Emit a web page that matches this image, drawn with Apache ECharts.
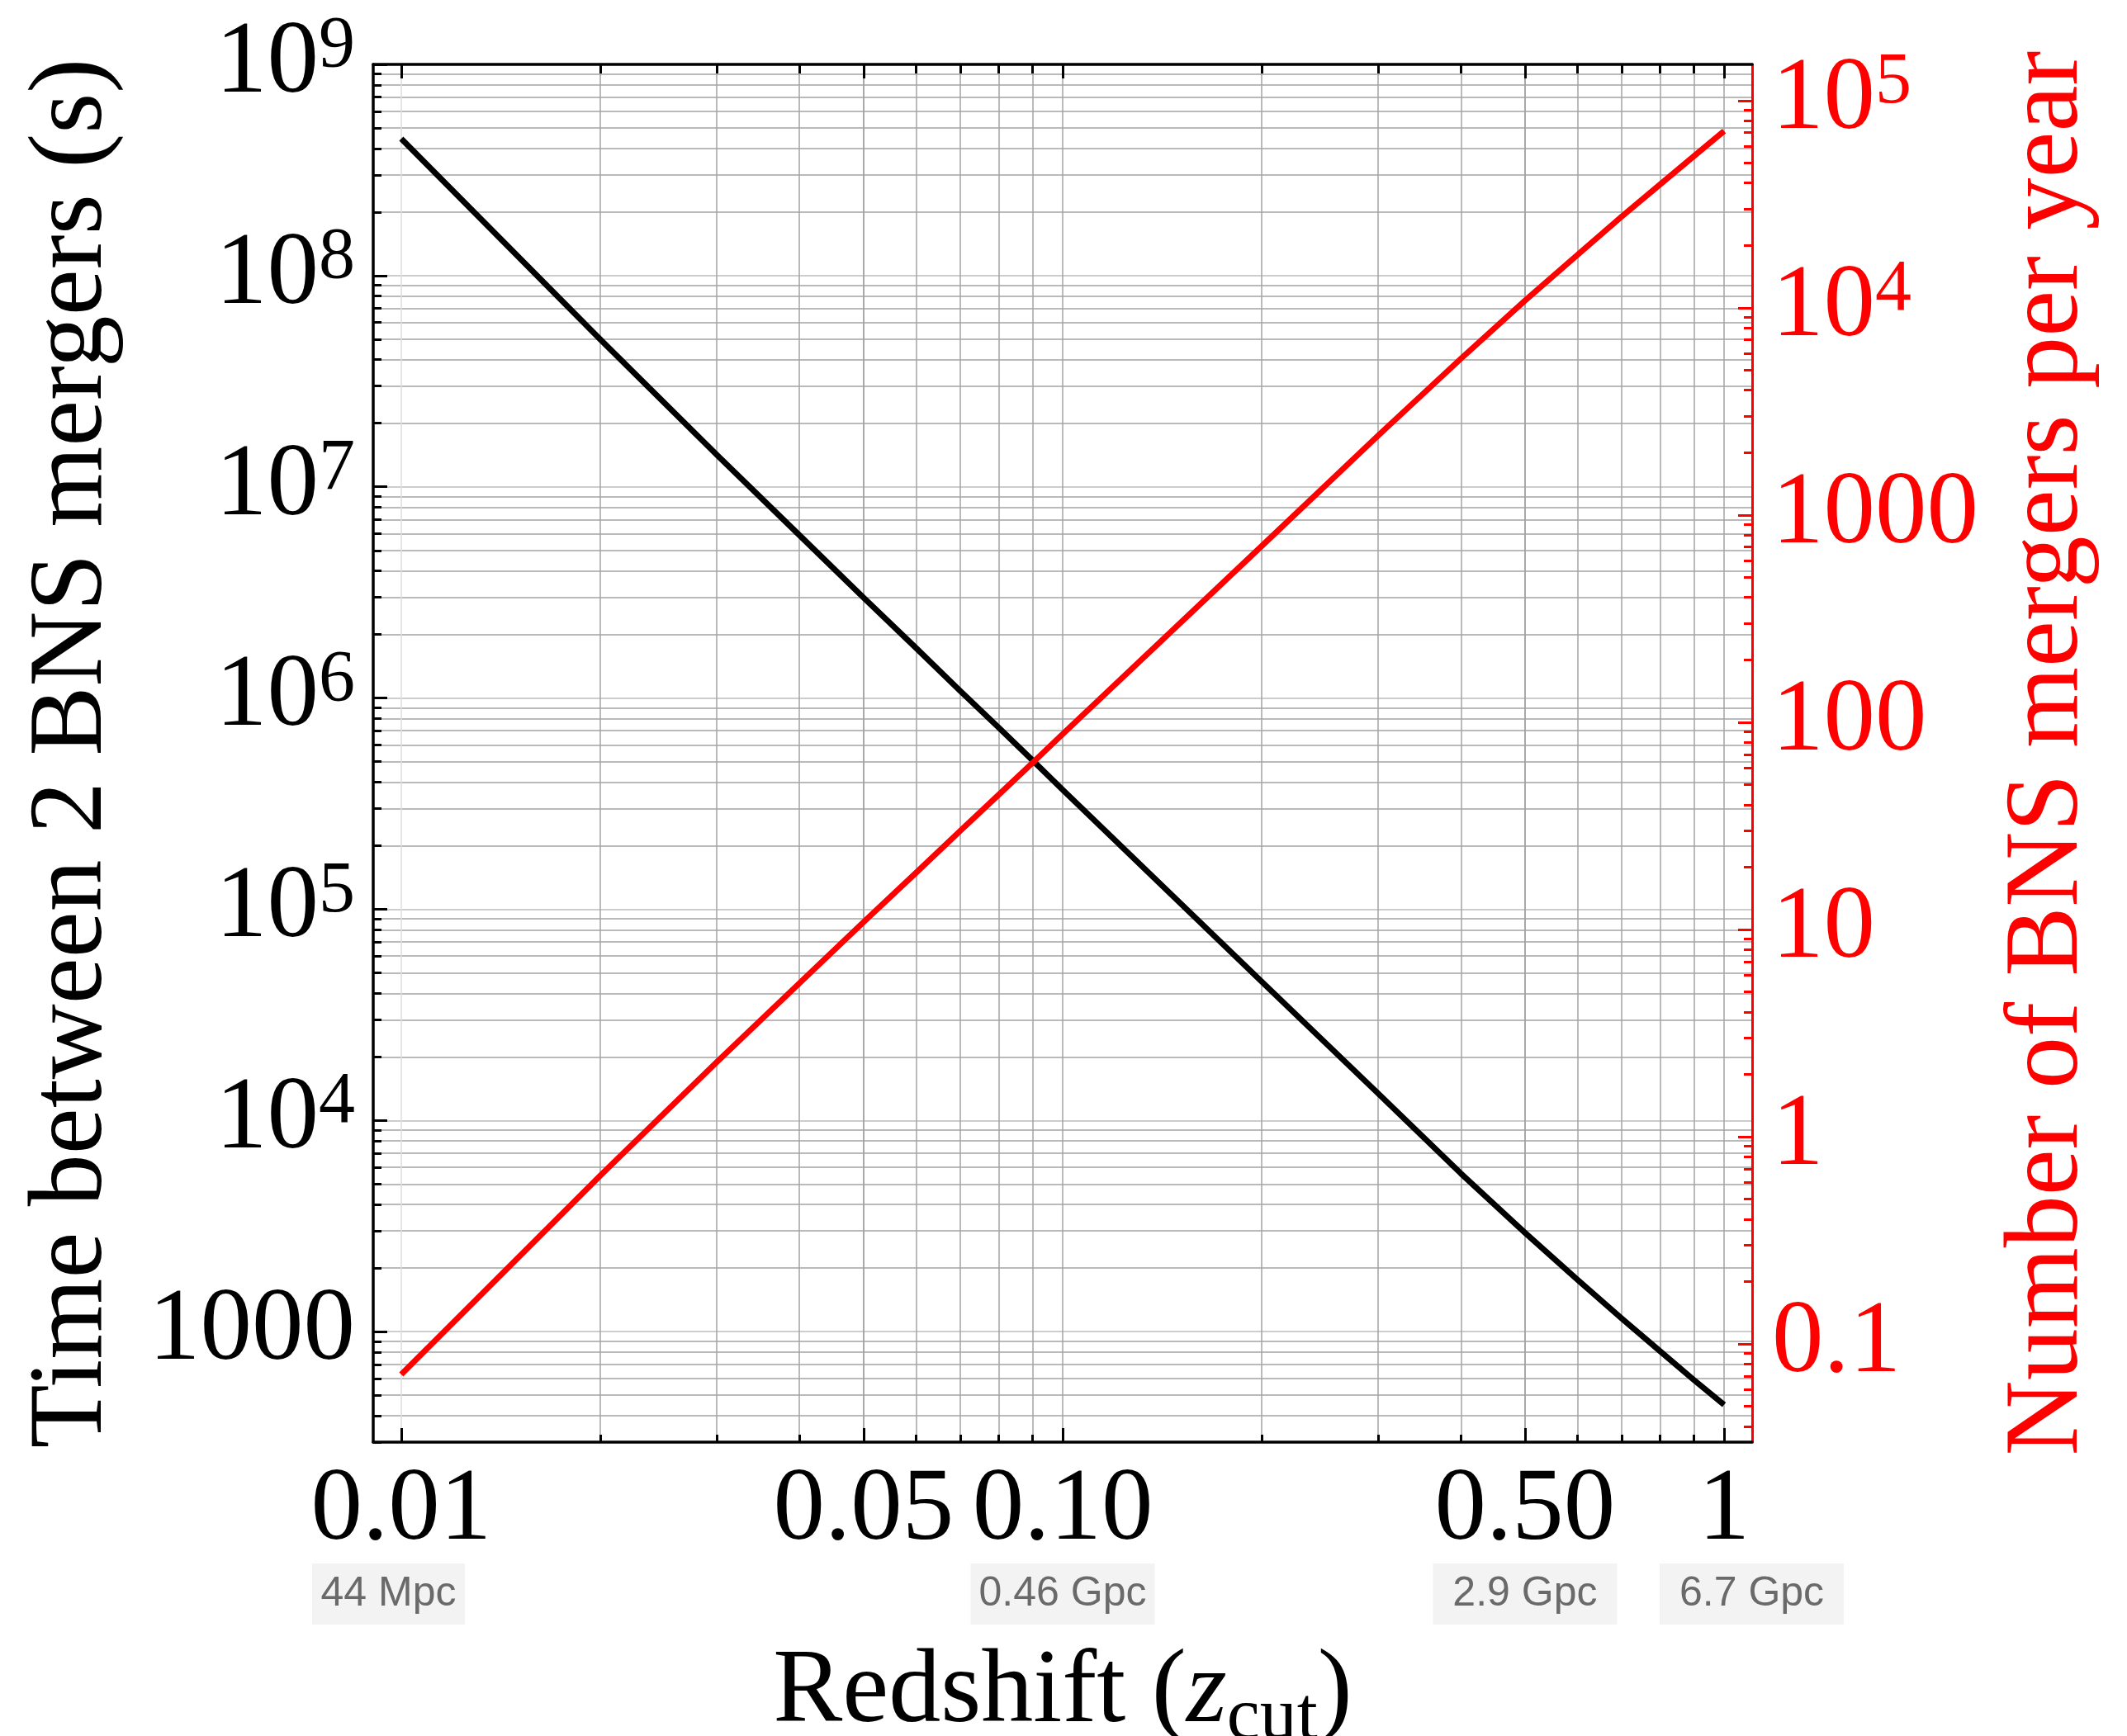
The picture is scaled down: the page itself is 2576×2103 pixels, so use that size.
<!DOCTYPE html>
<html>
<head>
<meta charset="utf-8">
<script src="https://cdn.jsdelivr.net/npm/echarts@6/dist/echarts.min.js"></script>
<style>
html,body{margin:0;padding:0;background:#ffffff;}
#chart{width:2576px;height:2103px;}
</style>
</head>
<body>
<div id="chart"></div>
<script>
// ---------------- data ----------------
const redshift       = [0.01, 0.02, 0.03, 0.04, 0.05, 0.06, 0.07, 0.08, 0.09, 0.10, 0.20, 0.30, 0.40, 0.50, 0.60, 0.70, 0.80, 0.90, 1.00];
const timeBetween    = [4.45e8, 4.98e7, 1.418e7, 5.90e6, 2.985e6, 1.727e6, 1.080e6, 7.25e5, 5.08e5, 3.68e5, 4.54e4, 1.342e4, 5.61e3, 2.94e3, 1.765e3, 1.156e3, 809, 591, 451];
const mergersPerYear = [0.0712, 0.650, 2.293, 5.505, 10.86, 18.75, 29.9, 44.6, 63.6, 87.7, 708.6, 2421, 5679, 10820, 17980, 27520, 39340, 53830, 71240];

// ---------------- ticks and labels ----------------
const xMajorTicks  = [0.01, 0.05, 0.1, 0.5, 1];
const xMajorLabels = ['0.01', '0.05', '0.10', '0.50', '1'];
const distanceTicks  = [0.01, 0.1, 0.5, 1];
const distanceLabels = ['44 Mpc', '0.46 Gpc', '2.9 Gpc', '6.7 Gpc'];
const leftMajorTicks  = [1e3, 1e4, 1e5, 1e6, 1e7, 1e8, 1e9];
const leftMajorLabels = ['1000', '10^4', '10^5', '10^6', '10^7', '10^8', '10^9'];
const rightMajorTicks  = [0.1, 1, 10, 100, 1e3, 1e4, 1e5];
const rightMajorLabels = ['0.1', '1', '10', '100', '1000', '10^4', '10^5'];
const minorMultipliers = [2, 3, 4, 5, 6, 7, 8, 9];

// axis ranges
const X_MIN = 0.00907, X_MAX = 1.1025;
const L_MIN = 300, L_MAX = 1e9;
const R_MIN = 0.03357, R_MAX = 149400;

function minorTicks(lo, hi) {
  const out = [];
  for (let k = Math.floor(Math.log10(lo)); k <= Math.ceil(Math.log10(hi)); k++) {
    for (const m of minorMultipliers) {
      const v = k < 0 ? m / Math.pow(10, -k) : m * Math.pow(10, k);
      if (v >= lo * 0.9999 && v <= hi * 1.0001) out.push(v);
    }
  }
  return out;
}
function nearestIndex(v, arr) {
  let best = 0, bd = Infinity;
  arr.forEach((a, i) => { const d = Math.abs(Math.log10(a) - Math.log10(v)); if (d < bd) { bd = d; best = i; } });
  return best;
}
function supLabel(s) {
  if (s.indexOf('^') >= 0) { const p = s.split('^'); return '{m|' + p[0] + '}{s|' + p[1] + '}'; }
  return '{m|' + s + '}';
}

const SERIF = "'Liberation Serif','Times New Roman',Times,serif";
const SANS = "'Liberation Sans',Arial,Helvetica,sans-serif";
const GRID_DARK = '#a3a3a3';
const GRID_LIGHT = '#bdbdbd';
const TICK_FONT = 125;

function richTicks(color) {
  return {
    m: {fontFamily: SERIF, fontSize: TICK_FONT, lineHeight: 130, color: color},
    s: {fontFamily: SERIF, fontSize: 88, lineHeight: 66, verticalAlign: 'top', color: color}
  };
}

// box widths and horizontal shifts of the distance boxes (style only)
const distStyle = [{w: 185, sp: 31, side: 'after'}, {w: 223, sp: 0}, {w: 223, sp: 0}, {w: 223, sp: 67, side: 'before'}];
const boxBase = {backgroundColor: '#f3f3f3', height: 74, lineHeight: 74, fontSize: 50, fontFamily: SANS, color: '#6a6a6a', align: 'center'};
const distRich = {
  b185: Object.assign({width: 185}, boxBase),
  b223: Object.assign({width: 223}, boxBase),
  sp31: {width: 31, lineHeight: 74, fontSize: 48, align: 'center'},
  sp67: {width: 67, lineHeight: 74, fontSize: 48, align: 'center'}
};
function distFormatter(v) {
  const i = nearestIndex(v, distanceTicks);
  const st = distStyle[i];
  const box = '{b' + st.w + '|' + distanceLabels[i] + '}';
  if (!st.sp) return box;
  const sp = '{sp' + st.sp + '| }';
  return st.side === 'before' ? sp + box : box + sp;
}

const hidden = {show: false};

function distanceAxis(values) {
  return {
    type: 'log', logBase: 10, position: 'bottom', min: X_MIN, max: X_MAX, gridIndex: 0,
    axisLine: hidden, axisTick: hidden, splitLine: hidden, minorTick: hidden, minorSplitLine: hidden,
    axisLabel: {show: true, margin: 147, customValues: values, showMinLabel: true, showMaxLabel: true, hideOverlap: false,
      formatter: distFormatter, rich: distRich}
  };
}

const option = {
  animation: false,
  backgroundColor: '#ffffff',
  grid: {left: 452, right: 454, top: 78, bottom: 356, containLabel: false, outerBoundsMode: 'none'},
  xAxis: [
    { // bottom major
      type: 'log', logBase: 10, position: 'bottom', min: X_MIN, max: X_MAX, gridIndex: 0,
      axisLine: {show: true, onZero: false, lineStyle: {color: '#000', width: 3.5}},
      axisTick: {show: true, inside: true, length: 17, lineStyle: {color: '#000', width: 3}, customValues: xMajorTicks},
      axisLabel: {show: true, margin: 21, customValues: xMajorTicks, fontFamily: SERIF, fontSize: TICK_FONT, lineHeight: 126, color: '#000',
        showMinLabel: true, showMaxLabel: true,
        formatter: v => xMajorLabels[nearestIndex(v, xMajorTicks)]},
      splitLine: {show: true, lineStyle: {color: ['#dedede', GRID_DARK, GRID_DARK, GRID_DARK, GRID_DARK], width: 1.5}},
      minorTick: hidden, minorSplitLine: hidden,
      name: '{n|Redshift (}{i|z}{s|cut}{n|)}', nameLocation: 'middle', nameGap: 230,
      nameTextStyle: {fontFamily: SERIF, fontSize: 126, color: '#000', rich: {
        n: {fontFamily: SERIF, fontSize: 126, lineHeight: 150, color: '#000'},
        i: {fontFamily: SERIF, fontSize: 126, lineHeight: 150, fontStyle: 'italic', color: '#000'},
        s: {fontFamily: SERIF, fontSize: 90, lineHeight: 91, verticalAlign: 'bottom', color: '#000'}
      }}
    },
    { // bottom minor
      type: 'log', logBase: 10, position: 'bottom', min: X_MIN, max: X_MAX, gridIndex: 0,
      axisLine: hidden,
      axisTick: {show: true, inside: true, length: 9, lineStyle: {color: '#000', width: 3}, customValues: minorTicks(X_MIN, X_MAX)},
      axisLabel: hidden,
      splitLine: {show: true, lineStyle: {color: GRID_DARK, width: 1.5}},
      minorTick: hidden, minorSplitLine: hidden
    },
    { // top major
      type: 'log', logBase: 10, position: 'top', min: X_MIN, max: X_MAX, gridIndex: 0,
      axisLine: {show: true, onZero: false, lineStyle: {color: '#000', width: 3.5}},
      axisTick: {show: true, inside: true, length: 17, lineStyle: {color: '#000', width: 3}, customValues: xMajorTicks},
      axisLabel: hidden, splitLine: hidden, minorTick: hidden, minorSplitLine: hidden
    },
    { // top minor
      type: 'log', logBase: 10, position: 'top', min: X_MIN, max: X_MAX, gridIndex: 0,
      axisLine: hidden,
      axisTick: {show: true, inside: true, length: 11, lineStyle: {color: '#000', width: 3}, customValues: minorTicks(X_MIN, X_MAX)},
      axisLabel: hidden, splitLine: hidden, minorTick: hidden, minorSplitLine: hidden
    },
    // comoving distance boxes (split in two axes so the shifted last box is not dropped as an overlap)
    distanceAxis(distanceTicks.slice(0, distanceTicks.length - 1)),
    distanceAxis(distanceTicks.slice(distanceTicks.length - 1))
  ],
  yAxis: [
    { // left major
      type: 'log', logBase: 10, position: 'left', min: L_MIN, max: L_MAX, gridIndex: 0,
      axisLine: {show: true, onZero: false, lineStyle: {color: '#000', width: 3.5}},
      axisTick: {show: true, inside: true, length: 17, lineStyle: {color: '#000', width: 3}, customValues: leftMajorTicks},
      axisLabel: {show: true, margin: 22, customValues: leftMajorTicks, color: '#000', showMinLabel: true, showMaxLabel: true,
        formatter: v => supLabel(leftMajorLabels[nearestIndex(v, leftMajorTicks)]), rich: richTicks('#000')},
      splitLine: {show: true, lineStyle: {color: GRID_LIGHT, width: 1.5}},
      minorTick: hidden, minorSplitLine: hidden,
      name: 'Time between 2 BNS mergers (s)', nameLocation: 'middle', nameRotate: 90, nameGap: 288,
      nameTextStyle: {fontFamily: SERIF, fontSize: 126, lineHeight: 150, color: '#000'}
    },
    { // left minor
      type: 'log', logBase: 10, position: 'left', min: L_MIN, max: L_MAX, gridIndex: 0,
      axisLine: hidden,
      axisTick: {show: true, inside: true, length: 10, lineStyle: {color: '#000', width: 3}, customValues: minorTicks(L_MIN, L_MAX)},
      axisLabel: hidden,
      splitLine: {show: true, lineStyle: {color: GRID_DARK, width: 1.5}},
      minorTick: hidden, minorSplitLine: hidden
    },
    { // right major
      type: 'log', logBase: 10, position: 'right', min: R_MIN, max: R_MAX, gridIndex: 0,
      axisLine: {show: true, onZero: false, lineStyle: {color: '#ff0000', width: 3}},
      axisTick: {show: true, inside: true, length: 17, lineStyle: {color: '#ff0000', width: 3}, customValues: rightMajorTicks},
      axisLabel: {show: true, margin: 24, customValues: rightMajorTicks, color: '#ff0000', showMinLabel: true, showMaxLabel: true,
        formatter: v => supLabel(rightMajorLabels[nearestIndex(v, rightMajorTicks)]), rich: richTicks('#ff0000')},
      splitLine: hidden, minorTick: hidden, minorSplitLine: hidden,
      name: 'Number of BNS mergers per year', nameLocation: 'middle', nameRotate: 90, nameGap: 284,
      nameTextStyle: {fontFamily: SERIF, fontSize: 126, lineHeight: 150, color: '#ff0000'}
    },
    { // right minor
      type: 'log', logBase: 10, position: 'right', min: R_MIN, max: R_MAX, gridIndex: 0,
      axisLine: hidden,
      axisTick: {show: true, inside: true, length: 10, lineStyle: {color: '#ff0000', width: 3}, customValues: minorTicks(R_MIN, R_MAX)},
      axisLabel: hidden, splitLine: hidden, minorTick: hidden, minorSplitLine: hidden
    }
  ],
  series: [
    {
      name: 'Time between mergers', type: 'line', xAxisIndex: 0, yAxisIndex: 0,
      data: redshift.map((z, i) => [z, timeBetween[i]]),
      symbol: 'none', silent: true, z: 5,
      lineStyle: {color: '#000000', width: 7, cap: 'butt', join: 'round'}
    },
    {
      name: 'Mergers per year', type: 'line', xAxisIndex: 0, yAxisIndex: 2,
      data: redshift.map((z, i) => [z, mergersPerYear[i]]),
      symbol: 'none', silent: true, z: 5,
      lineStyle: {color: '#ff0000', width: 7, cap: 'butt', join: 'round'}
    }
  ]
};

const chart = echarts.init(document.getElementById('chart'), null, {renderer: 'canvas', width: 2576, height: 2103});
chart.setOption(option);
</script>
</body>
</html>
